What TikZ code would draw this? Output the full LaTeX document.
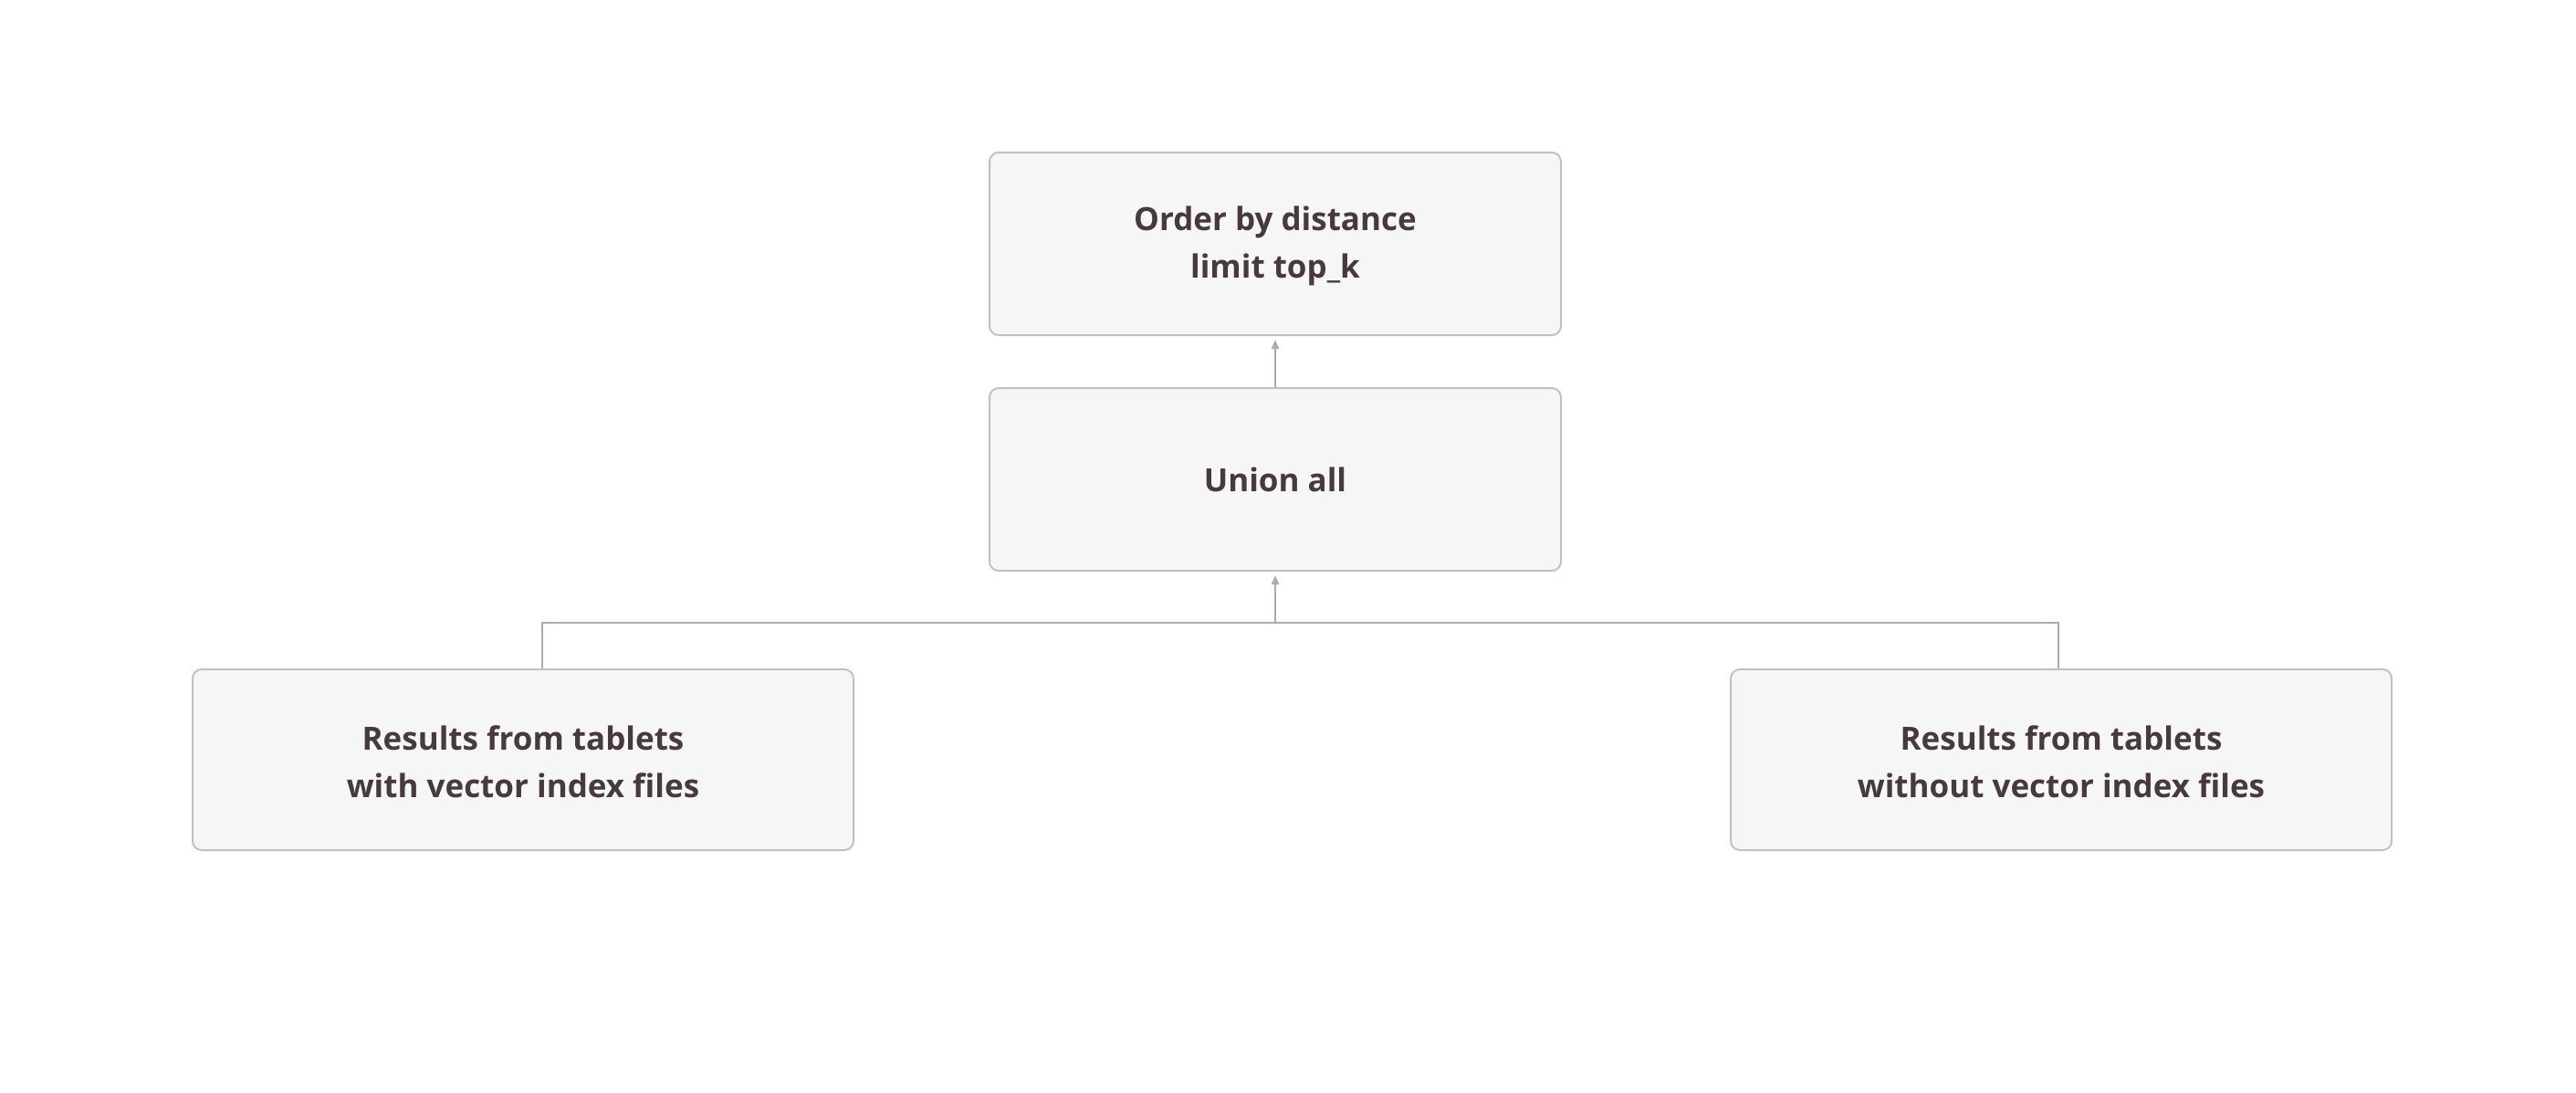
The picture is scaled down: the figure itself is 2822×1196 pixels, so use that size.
\documentclass[tikz,border=0pt]{standalone}
\usepackage{fontspec}
\setmainfont{Open Sans}
\usetikzlibrary{arrows.meta}
\definecolor{boxfill}{RGB}{246,246,246}
\definecolor{boxline}{RGB}{200,190,191}
\definecolor{linkline}{RGB}{178,168,169}
\definecolor{labeltext}{RGB}{72,58,60}
\begin{document}
\begin{tikzpicture}[x=0.5pt,y=0.5pt,yscale=-1,xscale=1,
  lepes/.style={draw=boxline,fill=boxfill,line width=1pt,rounded corners=5pt,
    minimum width=313pt,minimum height=100pt,align=center,text=labeltext,
    font=\fontsize{17.5}{26}\selectfont\bfseries},
  also/.style={lepes,minimum width=362pt,minimum height=99pt},
  kapcs/.style={draw=linkline,line width=1pt},
  nyil/.style={kapcs,-{Triangle[length=5pt,width=4pt]},shorten >=2pt}]

\useasboundingbox (0,0) rectangle (2822,1196);

%=====Dobozok=======
\node [lepes] (order) at (1397,267) {\rule{0pt}{16pt}Order by distance\\limit top\_k};
\node [lepes] (union) at (1397,525) {\rule{0pt}{14pt}Union all};
\node [also] (withidx) at (573,832) {\rule{0pt}{16pt}Results from tablets\\with vector index files};
\node [also] (noidx) at (2258,832) {\rule{0pt}{16pt}Results from tablets\\without vector index files};

%======Vonalak=========
\coordinate (lj) at (594,682);
\coordinate (rj) at (2255,682);

\draw [nyil] (union.north) -- (order.south);
\draw [kapcs] (lj |- withidx.north) -- (lj) -- (rj) -- (rj |- noidx.north);
\draw [nyil] (union.south |- lj) -- (union.south);

\end{tikzpicture}
\end{document}
